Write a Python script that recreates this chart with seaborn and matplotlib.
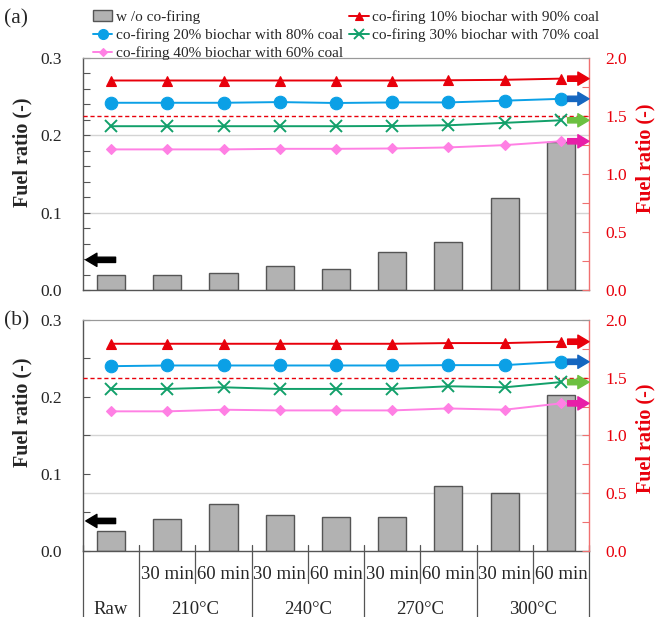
import numpy as np
import matplotlib
matplotlib.use("Agg")
import matplotlib.pyplot as plt
import matplotlib.transforms as mtransforms
from matplotlib.lines import Line2D
from matplotlib.patches import Patch
import seaborn as sns

# ---------------- data ----------------
categories = ["Raw", "210°C 30 min", "210°C 60 min", "240°C 30 min", "240°C 60 min",
              "270°C 30 min", "270°C 60 min", "300°C 30 min", "300°C 60 min"]
time_labels = ["", "30 min", "60 min", "30 min", "60 min", "30 min", "60 min", "30 min", "60 min"]
temp_groups = ["Raw", "210°C", "240°C", "270°C", "300°C"]
temp_spans = [(0, 0), (1, 2), (3, 4), (5, 6), (7, 8)]

legend_labels = ["w /o co-firing",
                 "co-firing 10% biochar with 90% coal",
                 "co-firing 20% biochar with 80% coal",
                 "co-firing 30% biochar with 70% coal",
                 "co-firing 40% biochar with 60% coal"]

# panel (a): left axis (w/o co-firing)
bars_a = [0.0196, 0.0196, 0.0217, 0.0309, 0.0265, 0.0487, 0.0622, 0.1185, 0.1912]
# panel (a): right axis (co-firing)
cof10_a = [1.806, 1.806, 1.806, 1.806, 1.806, 1.806, 1.808, 1.812, 1.822]
cof20_a = [1.614, 1.614, 1.614, 1.620, 1.612, 1.617, 1.617, 1.632, 1.648]
cof30_a = [1.412, 1.412, 1.412, 1.412, 1.412, 1.414, 1.420, 1.441, 1.463]
cof40_a = [1.212, 1.212, 1.212, 1.217, 1.217, 1.220, 1.229, 1.249, 1.282]

# panel (b)
bars_b = [0.0253, 0.0411, 0.0613, 0.0463, 0.0441, 0.0441, 0.0844, 0.0750, 0.2031]
cof10_b = [1.794, 1.794, 1.794, 1.794, 1.794, 1.794, 1.800, 1.800, 1.812]
cof20_b = [1.600, 1.606, 1.606, 1.606, 1.606, 1.606, 1.609, 1.609, 1.638]
cof30_b = [1.403, 1.403, 1.417, 1.403, 1.403, 1.403, 1.426, 1.417, 1.462]
cof40_b = [1.209, 1.209, 1.223, 1.217, 1.217, 1.217, 1.234, 1.223, 1.278]

threshold = 1.5          # red dashed reference (right axis)
left_arrow_y = 0.039     # black arrow (left axis)

# ---------------- style ----------------
sns.set_style("white")
plt.rcParams['font.family'] = ['Liberation Serif', 'DejaVu Serif']

RED = "#e8000b"
SPINE_RED = "#f07070"
series_style = [
    dict(color="#e8000b", marker="^", ms=7.5),
    dict(color="#0ba0e6", marker="o", ms=9),
    dict(color="#12a06a", marker="x", ms=8.5),
    dict(color="#ff80e4", marker="D", ms=5.5),
]
arrow_colors = ["#e8000b", "#1566c0", "#6cc040", "#e81ea8"]

fig = plt.figure(figsize=(6.57, 6.17), dpi=100)
ax_a = fig.add_axes([0.1263, 0.5300, 0.7702, 0.3760])
ax_b = fig.add_axes([0.1263, 0.1070, 0.7702, 0.3744])

TICK_FS = 12.5
LABEL_FS = 14.5


def draw_panel(ax, bars, series, left_minor, grid_left, ylab_left_y, ylab_right_y):
    sns.barplot(x=categories, y=bars, ax=ax, color="#b2b2b2", edgecolor="#555555",
                linewidth=1.0, width=0.5, saturation=1)
    ax.set_ylim(0, 0.3)
    for g in grid_left:
        ax.axhline(g, color="#d4d4d4", lw=1.0, zorder=0)
    ax.set_yticks([0.0, 0.1, 0.2, 0.3])
    ax.set_yticks(np.arange(0, 0.3001, left_minor), minor=True)
    ax.set_yticklabels(["0.0", "0.1", "0.2", "0.3"], fontsize=TICK_FS)
    ax.tick_params(axis='y', which='both', direction='in', length=5, width=0.8,
                   color="#555555", pad=15, left=True)
    ax.set_ylabel("Fuel ratio (-)", fontsize=LABEL_FS, fontweight='bold')
    ax.yaxis.set_label_coords(-0.1, ylab_left_y)
    ax.set_xlabel("")
    ax.tick_params(axis='x', which='both', bottom=False, labelbottom=False)

    ax2 = ax.twinx()
    for vals, st in zip(series, series_style):
        sns.pointplot(x=categories, y=vals, ax=ax2, color=st["color"], markers=st["marker"],
                      linestyles="-", errorbar=None, markersize=st["ms"], linewidth=1.4,
                      markeredgewidth=1.4 if st["marker"] == "x" else 0.8)
    ax2.set_ylim(0, 2.0)
    ax2.axhline(threshold, color=RED, lw=1.0, ls=(0, (3, 2)), zorder=1)
    ax2.set_yticks([0.0, 0.5, 1.0, 1.5, 2.0])
    ax2.set_yticks(np.arange(0, 2.001, 0.25), minor=True)
    ax2.set_yticklabels(["0.0", "0.5", "1.0", "1.5", "2.0"], fontsize=TICK_FS, color=RED)
    ax2.tick_params(axis='y', which='both', direction='in', length=5, width=0.8,
                    color=SPINE_RED, pad=12, right=True)
    ax2.set_ylabel("Fuel ratio (-)", fontsize=LABEL_FS, fontweight='bold', color=RED)
    ax2.yaxis.set_label_coords(1.092, ylab_right_y)
    ax2.set_xlim(-0.5, len(categories) - 0.5)
    ax2.set_xlabel("")
    ax2.tick_params(axis='x', which='both', bottom=False, top=False, labelbottom=False)

    for sp in ("left", "bottom"):
        ax.spines[sp].set_color("#555555")
        ax.spines[sp].set_linewidth(1.0)
    ax.spines["top"].set_color("#999999")
    ax.spines["right"].set_visible(False)
    ax2.spines["right"].set_color(SPINE_RED)
    ax2.spines["right"].set_linewidth(1.0)
    ax2.spines["left"].set_visible(False)
    ax2.spines["top"].set_color("#999999")
    ax2.spines["bottom"].set_visible(False)

    # arrows pointing to the axes
    n = len(categories)
    for vals, c in zip(series, arrow_colors):
        ax2.annotate("", xy=(n - 0.5, vals[-1]), xytext=(n - 0.88, vals[-1]),
                     arrowprops=dict(arrowstyle="simple,head_width=0.95,head_length=0.8,tail_width=0.38",
                                     color=c, shrinkA=0, shrinkB=0), annotation_clip=False)
    ax.annotate("", xy=(-0.45, left_arrow_y), xytext=(0.08, left_arrow_y),
                arrowprops=dict(arrowstyle="simple,head_width=0.95,head_length=0.8,tail_width=0.38",
                                color="black", shrinkA=0, shrinkB=0))
    return ax2


ax2_a = draw_panel(ax_a, bars_a, [cof10_a, cof20_a, cof30_a, cof40_a],
                   left_minor=0.02, grid_left=[0.1, 0.2], ylab_left_y=0.595, ylab_right_y=0.57)
ax2_b = draw_panel(ax_b, bars_b, [cof10_b, cof20_b, cof30_b, cof40_b],
                   left_minor=0.05, grid_left=[0.075, 0.15], ylab_left_y=0.60, ylab_right_y=0.49)

# ---------------- table-like x axis under panel (b) ----------------
trans = mtransforms.blended_transform_factory(ax_b.transData, ax_b.transAxes)
line_kw = dict(color="#555555", lw=0.9, transform=trans, clip_on=False)
long_bounds = [-0.5] + [e + 0.5 for (_, e) in temp_spans]
for b in long_bounds:
    ax_b.plot([b, b], [0.026, -0.29], **line_kw)
for (s, e) in temp_spans:
    if e > s:
        for b in np.arange(s + 0.5, e, 1.0):
            ax_b.plot([b, b], [0.026, -0.14], **line_kw)
for i, t in enumerate(time_labels):
    if t:
        ax_b.text(i, -0.1, t, transform=trans, ha='center', va='center', fontsize=13.5)
for g, (s, e) in zip(temp_groups, temp_spans):
    ax_b.text((s + e) / 2, -0.252, g, transform=trans, ha='center', va='center', fontsize=13.5)

# ---------------- panel labels & legend ----------------
fig.text(0.006, 0.970, "(a)", fontsize=15.5, va='center', ha='left')
fig.text(0.006, 0.480, "(b)", fontsize=15.5, va='center', ha='left')

handles = [Patch(facecolor="#b2b2b2", edgecolor="#555555", lw=1.0)]
for st in series_style:
    handles.append(Line2D([], [], color=st["color"], marker=st["marker"], ms=st["ms"] * 0.8,
                          lw=1.4, mew=1.4 if st["marker"] == "x" else 0.8))
# column-wise order: col1 -> w/o, 20%, 40% ; col2 -> 10%, 30%
order = [0, 2, 4, 1, 3]
fig.legend([handles[i] for i in order], [legend_labels[i] for i in order],
           loc='upper left', bbox_to_anchor=(0.127, 0.998), ncol=2, frameon=False,
           fontsize=11, handlelength=1.3, handletextpad=0.25, labelspacing=0.28,
           columnspacing=0.35, borderaxespad=0.2)

fig.savefig("out.png", dpi=100)
